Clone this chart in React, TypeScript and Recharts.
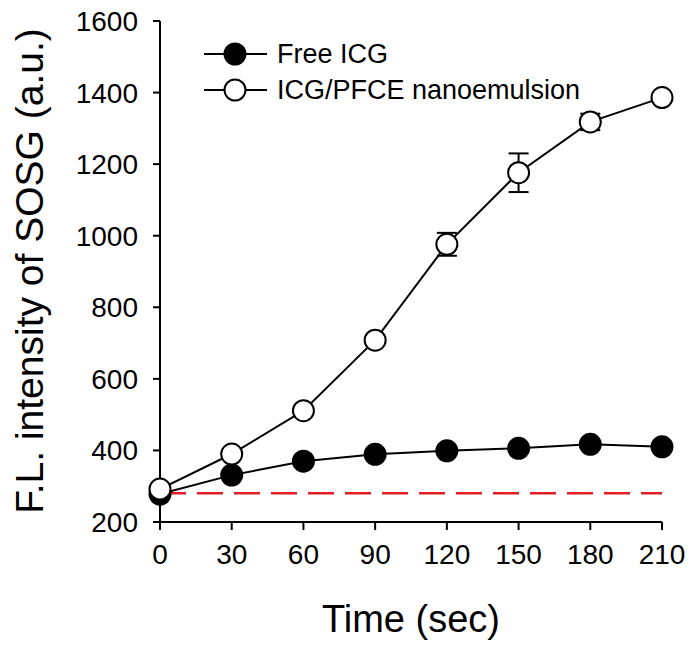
import React from 'react';
import { LineChart, Line, XAxis, YAxis, ErrorBar, ReferenceLine, Legend, Label } from 'recharts';

const times = [0, 30, 60, 90, 120, 150, 180, 210];
const freeIcg = [278, 331, 370, 389, 399, 406, 417, 410];
const freeIcgErr = [3, 3, 4, 3, 3, 3, 4, 3];
const nanoEmulsion = [292, 390, 511, 708, 976, 1176, 1318, 1386];
const nanoEmulsionErr = [3, 4, 6, 5, 32, 54, 23, 13];
const xTicks = [0, 30, 60, 90, 120, 150, 180, 210];
const yTicks = [200, 400, 600, 800, 1000, 1200, 1400, 1600];
const baseline = 280;
const seriesNames = ['Free ICG', 'ICG/PFCE nanoemulsion'];

const data = times.map((t, i) => ({
  t,
  free: freeIcg[i],
  freeErr: freeIcgErr[i],
  nano: nanoEmulsion[i],
  nanoErr: nanoEmulsionErr[i],
}));

const FONT = '"Liberation Sans", Arial, sans-serif';

const LegendContent = () => (
  <div style={{ fontFamily: FONT }}>
    {seriesNames.map((name, i) => (
      <div key={name} style={{ display: 'flex', alignItems: 'center', height: 36 }}>
        <svg width={78} height={30} style={{ display: 'block' }}>
          <line x1={5} y1={15} x2={68} y2={15} stroke="#000" strokeWidth={2} />
          <circle cx={36} cy={15} r={10.5} fill={i === 0 ? '#000' : '#fff'} stroke="#000" strokeWidth={2} />
        </svg>
        <span style={{ fontSize: 27, color: '#000', whiteSpace: 'nowrap' }}>{name}</span>
      </div>
    ))}
  </div>
);

export default function App() {
  return (
    <div style={{ position: 'absolute', left: 0, top: 0, width: 696, height: 662, background: '#fff' }}>
      <LineChart width={696} height={662} data={data} margin={{ top: 21, right: 34, bottom: 0, left: 0 }}>
        <XAxis
          dataKey="t"
          type="number"
          domain={[0, 210]}
          ticks={xTicks}
          height={140}
          tickSize={8}
          tickMargin={14}
          axisLine={{ stroke: '#000', strokeWidth: 2 }}
          tickLine={{ stroke: '#000', strokeWidth: 2 }}
          tick={{ fill: '#000', fontSize: 28, fontFamily: FONT }}
          interval={0}
        >
          <Label
            content={() => (
              <text x={411} y={632} textAnchor="middle" fontSize={38} fontFamily={FONT} fill="#000">
                Time (sec)
              </text>
            )}
          />
        </XAxis>
        <YAxis
          type="number"
          domain={[200, 1600]}
          ticks={yTicks}
          width={160}
          tickSize={7}
          tickMargin={15}
          axisLine={{ stroke: '#000', strokeWidth: 2 }}
          tickLine={{ stroke: '#000', strokeWidth: 2 }}
          tick={{ fill: '#000', fontSize: 28, fontFamily: FONT }}
          interval={0}
        >
          <Label
            content={() => (
              <text
                x={43}
                y={271}
                transform="rotate(-90 43 271)"
                textAnchor="middle"
                fontSize={39}
                fontFamily={FONT}
                fill="#000"
              >
                F.L. intensity of SOSG (a.u.)
              </text>
            )}
          />
        </YAxis>
        <ReferenceLine y={baseline} stroke="#e41e26" strokeWidth={2.5} strokeDasharray="26 11" />
        <Legend
          layout="vertical"
          verticalAlign="middle"
          align="center"
          content={LegendContent}
          wrapperStyle={{ left: 199, top: 36, width: 430 }}
        />
        <Line
          dataKey="free"
          name={seriesNames[0]}
          stroke="#000"
          strokeWidth={2}
          isAnimationActive={false}
          dot={{ r: 10.5, fill: '#000', stroke: '#000', strokeWidth: 2 }}
          activeDot={false}
        >
          <ErrorBar dataKey="freeErr" width={10} stroke="#000" strokeWidth={2} direction="y" />
        </Line>
        <Line
          dataKey="nano"
          name={seriesNames[1]}
          stroke="#000"
          strokeWidth={2}
          isAnimationActive={false}
          dot={{ r: 10.5, fill: '#fff', stroke: '#000', strokeWidth: 2 }}
          activeDot={false}
        >
          <ErrorBar dataKey="nanoErr" width={10} stroke="#000" strokeWidth={2} direction="y" />
        </Line>
      </LineChart>
    </div>
  );
}
